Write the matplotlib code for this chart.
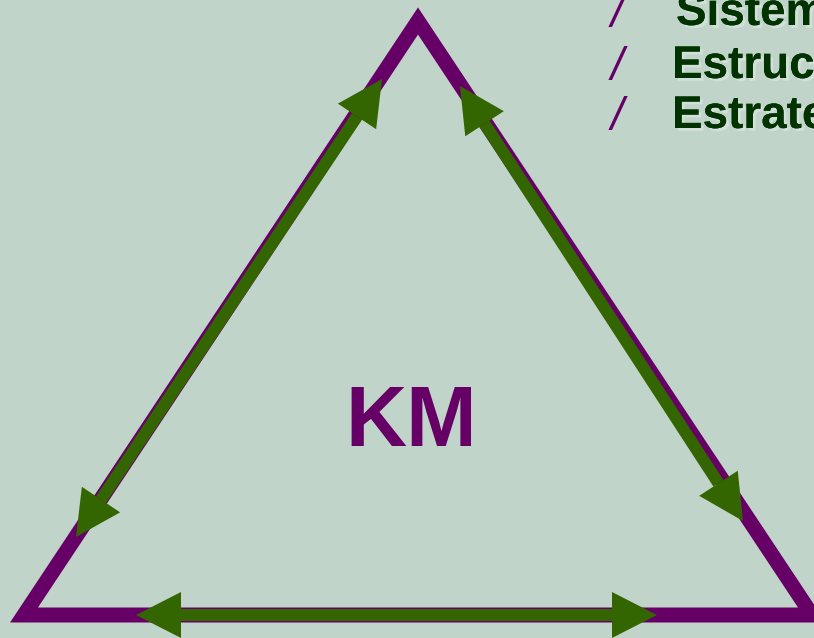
import matplotlib
matplotlib.use("Agg")
import matplotlib.pyplot as plt
import matplotlib.patheffects as pe
from matplotlib.patches import Polygon
import numpy as np

# diagram content (pixel space of the 814x638 picture)
triangle = [(418, 21), (24, 615), (812, 615)]
arrows = [
    ((76, 537), (382, 79)),    # left side
    ((460, 86), (743, 521)),   # right side
    ((136, 615), (657, 615)),  # bottom
]
center_label = "KM"
items = ["Sistemas", "Estructura", "Estrategia"]
item_x = [676, 672, 672]
item_y = [25, 78, 128]

PURPLE = "#660066"
GREEN = "#336600"
DARK = "#003300"
BG = "#c1d4c9"


def arrow_head(ax, tip, back, length=45, half=23):
    tip = np.array(tip, float)
    d = tip - np.array(back, float)
    d /= np.hypot(*d)
    n = np.array([-d[1], d[0]])
    base = tip - d * length
    pts = [tip, base + n * half, base - n * half]
    ax.add_patch(Polygon(pts, closed=True, facecolor=GREEN, edgecolor="none", zorder=4))
    return base


def main():
    fig = plt.figure(figsize=(8.14, 6.38), dpi=100)
    fig.patch.set_facecolor(BG)
    ax = fig.add_axes([0, 0, 1, 1])
    ax.set_xlim(0, 814)
    ax.set_ylim(638, 0)
    ax.axis("off")

    ax.add_patch(Polygon(triangle, closed=True, fill=False, edgecolor=PURPLE,
                         linewidth=15 * 72 / 100, joinstyle="miter", zorder=2))

    for a, b in arrows:
        ba = arrow_head(ax, a, b)
        bb = arrow_head(ax, b, a)
        ax.plot([ba[0], bb[0]], [ba[1], bb[1]], color=GREEN,
                linewidth=12 * 72 / 100, solid_capstyle="butt", zorder=3)

    ax.text(411, 446, center_label, color=PURPLE, fontsize=61, fontweight="bold",
            family="Liberation Sans", ha="center", va="baseline", zorder=5)

    shadow = [pe.withSimplePatchShadow(offset=(2, -2), shadow_rgbFace="white", alpha=0.3),
              pe.Normal()]
    for name, x, y in zip(items, item_x, item_y):
        ax.text(611, y + 2, "/", color=PURPLE, fontsize=33, family="Liberation Sans",
                fontstyle="italic", ha="left", va="baseline", zorder=5)
        ax.text(x, y, name, color=DARK, fontsize=33, fontweight="bold",
                family="Liberation Sans", ha="left", va="baseline", zorder=5,
                path_effects=shadow)

    fig.savefig("out.png", dpi=100, facecolor=BG)


if __name__ == "__main__":
    main()
